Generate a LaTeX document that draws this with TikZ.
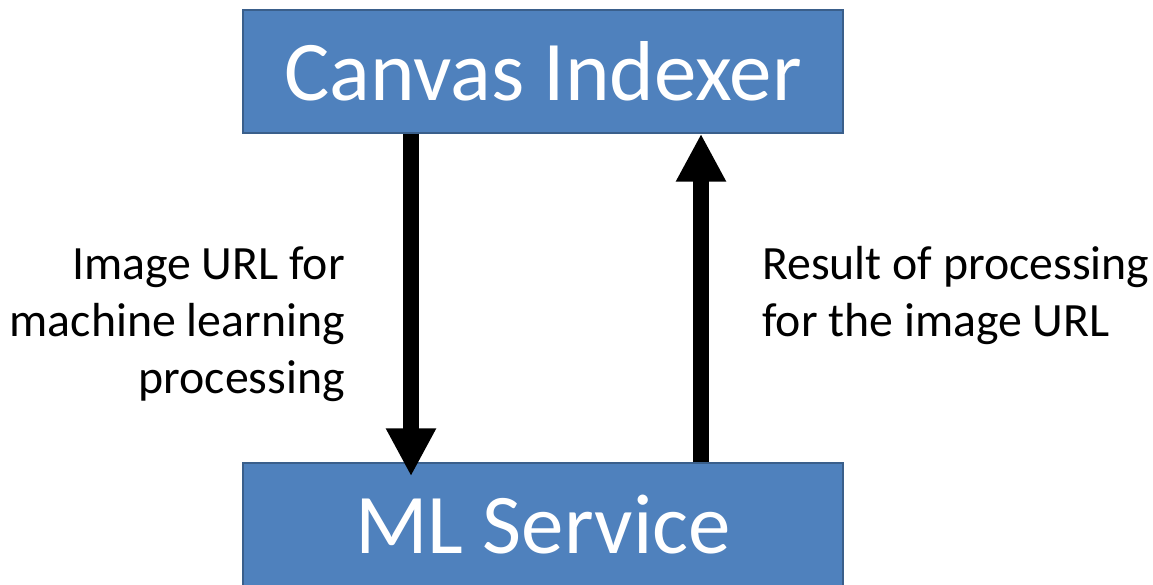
\documentclass[tikz,border=0pt]{standalone}
\usepackage{fontspec}
\setmainfont{Carlito}
\usepackage{tikz}
\usetikzlibrary{arrows.meta,positioning}
\definecolor{boxblue}{HTML}{4F81BD}
\definecolor{boxedge}{HTML}{3A5F8B}
\tikzset{
  bluebox/.style={draw=boxedge,line width=1.5pt,fill=boxblue,text=white,minimum width=600pt,minimum height=123pt,inner sep=0pt,font=\fontsize{85}{100}\selectfont},
  fatarrow/.style={line width=16pt,-{Triangle[width=47pt,length=48pt]}},
  msg/.style={inner sep=0pt,font=\fontsize{47.8}{57}\selectfont}
}
\begin{document}
\begin{tikzpicture}[x=1pt,y=1pt]
\useasboundingbox(0,0)rectangle(1153,584);
\node[bluebox](indexer)at(543,512.5){Canvas Indexer};
\node[bluebox](mlservice)at(543,59.5){ML Service};
% requests and results
\coordinate(reqtop)at([xshift=-132pt]indexer.south);
\coordinate(restop)at([xshift=158pt]indexer.south);
\draw[fatarrow,shorten >=-14pt](reqtop)--(reqtop|-mlservice.north);
\draw[fatarrow](restop|-mlservice.north)--(restop);
\node[msg,align=right,anchor=east](reqlabel)at(345,259.5){Image URL for\\machine learning\\processing};
\node[msg,align=left,anchor=west](reslabel)at(762,288.5){Result of processing\\for the image URL};
\end{tikzpicture}
\end{document}
